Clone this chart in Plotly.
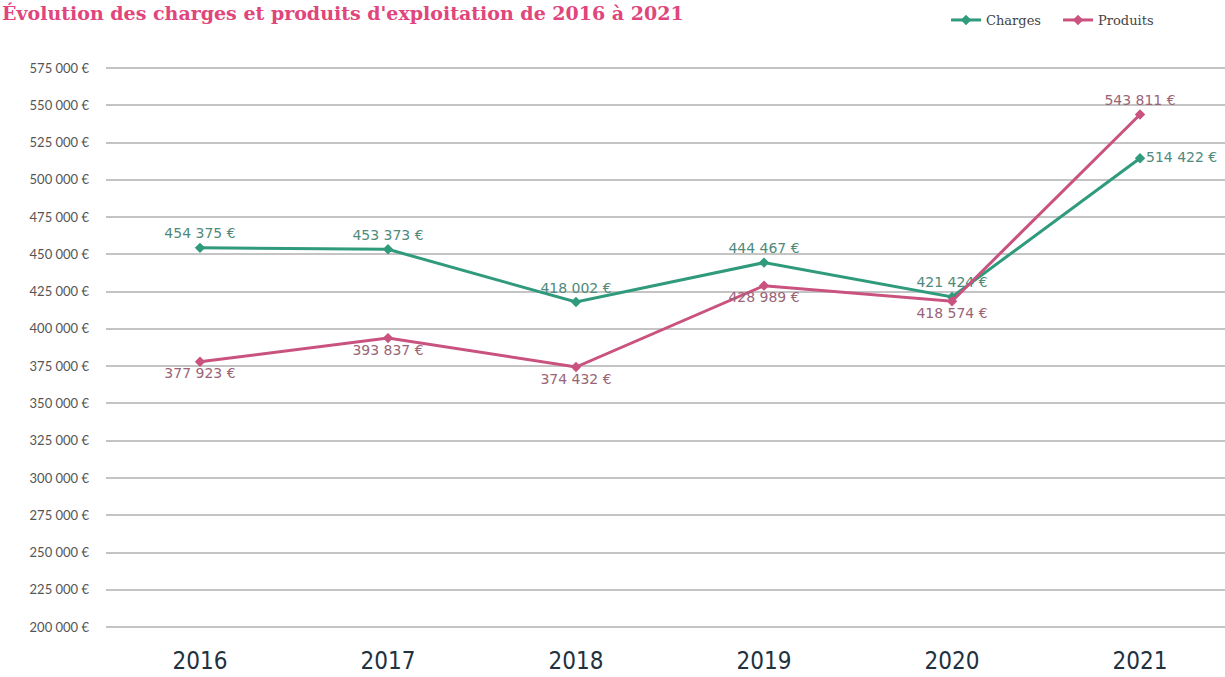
import plotly.graph_objects as go

years = ["2016", "2017", "2018", "2019", "2020", "2021"]
charges = [454375, 453373, 418002, 444467, 421424, 514422]
produits = [377923, 393837, 374432, 428989, 418574, 543811]
charges_pos = ["top center", "top center", "top center", "top center", "top center", "middle right"]
produits_pos = ["bottom center", "bottom center", "bottom center", "bottom center", "bottom center", "top center"]
y_ticks = list(range(200000, 575001, 25000))


def fmt(v):
    return f"{v:,}".replace(",", " ") + " €"


fig = go.Figure()
fig.add_trace(go.Scatter(
    x=years, y=charges, name="Charges", mode="lines+markers+text",
    line=dict(color="#2f9a7c", width=3),
    marker=dict(symbol="diamond", size=8, color="#2f9a7c"),
    text=[fmt(v) for v in charges], textposition=charges_pos,
    textfont=dict(family="DejaVu Sans", size=14, color="#4f8a7c"),
    cliponaxis=False,
))
fig.add_trace(go.Scatter(
    x=years, y=produits, name="Produits", mode="lines+markers+text",
    line=dict(color="#c9527e", width=3),
    marker=dict(symbol="diamond", size=8, color="#c9527e"),
    text=[fmt(v) for v in produits], textposition=produits_pos,
    textfont=dict(family="DejaVu Sans", size=14, color="#9a6478"),
    cliponaxis=False,
))

fig.add_annotation(
    text="Évolution des charges et produits d'exploitation de 2016 à 2021",
    xref="paper", yref="paper", x=-0.0947, y=1.1172, xanchor="left", yanchor="top",
    showarrow=False, font=dict(family="DejaVu Serif", size=19, color="#e0457b", weight="bold"),
)

fig.update_layout(
    width=1225, height=677,
    margin=dict(l=106, r=0, t=66, b=48, autoexpand=False),
    paper_bgcolor="white", plot_bgcolor="white",
    showlegend=True,
    legend=dict(orientation="h", x=0.7507, y=1.0817, xanchor="left", yanchor="middle",
                font=dict(family="DejaVu Serif", size=13, color="#444"),
                bgcolor="rgba(0,0,0,0)", itemwidth=30,
                entrywidth=67, entrywidthmode="pixels"),
    xaxis=dict(type="category", range=[-0.5, 5.452], showgrid=False, zeroline=False,
               showline=False, ticks="", automargin=False, ticklabelstandoff=15,
               tickfont=dict(family="DejaVu Sans Condensed, Liberation Sans Narrow, DejaVu Sans", size=24, color="#1e3240")),
    yaxis=dict(range=[198692, 576342], tickvals=y_ticks, ticktext=[fmt(v) for v in y_ticks],
               showgrid=True, gridcolor="#c4c4c4", gridwidth=1.6, zeroline=False,
               showline=False, ticks="", ticklabelstandoff=16, automargin=False,
               tickfont=dict(family="Lato, DejaVu Sans", size=13, color="#555")),
)

fig.write_html("out.html", config={"displayModeBar": False},
               post_script="document.body.style.margin='0';")
